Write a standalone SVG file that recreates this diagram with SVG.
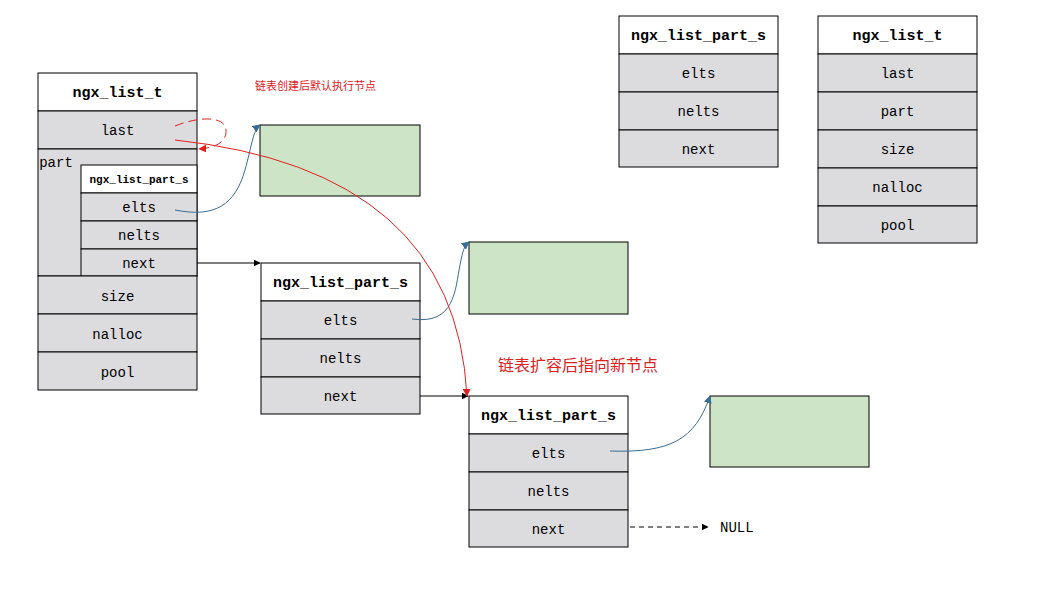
<svg xmlns="http://www.w3.org/2000/svg" width="1041" height="598" viewBox="0 0 1041 598">
<style>
.cell{fill:#dcdcdf;stroke:#000;stroke-width:1}
.hdr{fill:#fff;stroke:#000;stroke-width:1}
.green{fill:#cde4c6;stroke:#000;stroke-width:1}
.t{font-family:"Liberation Mono","DejaVu Sans Mono",monospace;font-size:14px;fill:#000;text-anchor:middle}
.h{font-family:"Liberation Mono","DejaVu Sans Mono",monospace;font-size:15px;font-weight:bold;fill:#000;text-anchor:middle}
.cn{font-family:"Noto Sans CJK SC",sans-serif;fill:#e0201e}
</style>
<defs>
<marker id="ab" viewBox="0 0 10 10" refX="9" refY="5" markerWidth="7" markerHeight="7" orient="auto" markerUnits="userSpaceOnUse"><path d="M0,0 L10,5 L0,10 z" fill="#000"/></marker>
<marker id="ar" viewBox="0 0 10 10" refX="9" refY="5" markerWidth="8" markerHeight="8" orient="auto" markerUnits="userSpaceOnUse"><path d="M0,0 L10,5 L0,10 z" fill="#e0201e"/></marker>
<marker id="au" viewBox="0 0 10 10" refX="9" refY="5" markerWidth="8" markerHeight="8" orient="auto" markerUnits="userSpaceOnUse"><path d="M0,0 L10,5 L0,10 z" fill="#3a6d93"/></marker>
</defs>

<g id="list_t_left">
<rect class="hdr" x="38" y="73" width="159" height="38"/>
<text class="h" x="117.5" y="97">ngx_list_t</text>
<rect class="cell" x="38" y="111" width="159" height="38"/>
<text class="t" x="117.5" y="135">last</text>
<rect class="cell" x="38" y="149" width="159" height="127"/>
<text class="t" x="56" y="167">part</text>
<rect class="hdr" x="81" y="165" width="116" height="28"/>
<text class="h" x="139" y="183" style="font-size:11px">ngx_list_part_s</text>
<rect class="cell" x="81" y="193" width="116" height="28"/>
<text class="t" x="139" y="212">elts</text>
<rect class="cell" x="81" y="221" width="116" height="28"/>
<text class="t" x="139" y="240">nelts</text>
<rect class="cell" x="81" y="249" width="116" height="27"/>
<text class="t" x="139" y="268">next</text>
<rect class="cell" x="38" y="276" width="159" height="38"/>
<text class="t" x="117.5" y="301">size</text>
<rect class="cell" x="38" y="314" width="159" height="38"/>
<text class="t" x="117.5" y="339">nalloc</text>
<rect class="cell" x="38" y="352" width="159" height="38"/>
<text class="t" x="117.5" y="377">pool</text>
</g>

<g id="part_mid">
<rect class="hdr" x="261" y="263" width="159" height="38"/>
<text class="h" x="340.5" y="287">ngx_list_part_s</text>
<rect class="cell" x="261" y="301" width="159" height="38"/>
<text class="t" x="340.5" y="325">elts</text>
<rect class="cell" x="261" y="339" width="159" height="38"/>
<text class="t" x="340.5" y="363">nelts</text>
<rect class="cell" x="261" y="377" width="159" height="37"/>
<text class="t" x="340.5" y="401">next</text>
</g>

<g id="part_bottom">
<rect class="hdr" x="469" y="396" width="159" height="38"/>
<text class="h" x="548.5" y="420">ngx_list_part_s</text>
<rect class="cell" x="469" y="434" width="159" height="38"/>
<text class="t" x="548.5" y="458">elts</text>
<rect class="cell" x="469" y="472" width="159" height="38"/>
<text class="t" x="548.5" y="496">nelts</text>
<rect class="cell" x="469" y="510" width="159" height="37"/>
<text class="t" x="548.5" y="534">next</text>
</g>

<g id="green1"><rect class="green" x="260" y="125" width="160" height="71"/></g>
<g id="green2"><rect class="green" x="469" y="242" width="159" height="72"/></g>
<g id="green3"><rect class="green" x="710" y="396" width="159" height="71"/></g>

<g id="legend_part">
<rect class="hdr" x="619" y="16" width="159" height="38"/>
<text class="h" x="698.5" y="40">ngx_list_part_s</text>
<rect class="cell" x="619" y="54" width="159" height="38"/>
<text class="t" x="698.5" y="78">elts</text>
<rect class="cell" x="619" y="92" width="159" height="38"/>
<text class="t" x="698.5" y="116">nelts</text>
<rect class="cell" x="619" y="130" width="159" height="37"/>
<text class="t" x="698.5" y="154">next</text>
</g>

<g id="legend_list">
<rect class="hdr" x="818" y="16" width="159" height="38"/>
<text class="h" x="897.5" y="40">ngx_list_t</text>
<rect class="cell" x="818" y="54" width="159" height="38"/>
<text class="t" x="897.5" y="78">last</text>
<rect class="cell" x="818" y="92" width="159" height="38"/>
<text class="t" x="897.5" y="116">part</text>
<rect class="cell" x="818" y="130" width="159" height="38"/>
<text class="t" x="897.5" y="154">size</text>
<rect class="cell" x="818" y="168" width="159" height="38"/>
<text class="t" x="897.5" y="192">nalloc</text>
<rect class="cell" x="818" y="206" width="159" height="37"/>
<text class="t" x="897.5" y="230">pool</text>
</g>

<g id="labels">
<text class="cn" x="255" y="90" font-size="11">链表创建后默认执行节点</text>
<text class="cn" x="498" y="371" font-size="16">链表扩容后指向新节点</text>
<text x="720" y="532" font-family="'Liberation Mono',monospace" font-size="14" fill="#000">NULL</text>
</g>

<g id="connectors" fill="none">
<path d="M197,263 L260,263" stroke="#000" stroke-width="1" marker-end="url(#ab)"/>
<path d="M420,396 L468,396" stroke="#000" stroke-width="1" marker-end="url(#ab)"/>
<path d="M630,527 L708,527" stroke="#000" stroke-width="1" stroke-dasharray="5,4" marker-end="url(#ab)"/>
<path d="M175,210 C215,218 235,205 245,170 C252,145 253,130 260,125" stroke="#3a6d93" stroke-width="1" marker-end="url(#au)"/>
<path d="M412,319 C455,325 455,290 460,265 C463,250 464,246 469,242" stroke="#3a6d93" stroke-width="1" marker-end="url(#au)"/>
<path d="M610,451 C670,453 695,440 710,396" stroke="#3a6d93" stroke-width="1" marker-end="url(#au)"/>
<path d="M175,140 Q455,170 467,396" stroke="#e0201e" stroke-width="1" marker-end="url(#ar)"/>
<path d="M175,126 C200,116 225,116 226,130 C227,142 215,148 199,149" stroke="#e0201e" stroke-width="1" stroke-dasharray="9,5" marker-end="url(#ar)"/>
</g>
</svg>
